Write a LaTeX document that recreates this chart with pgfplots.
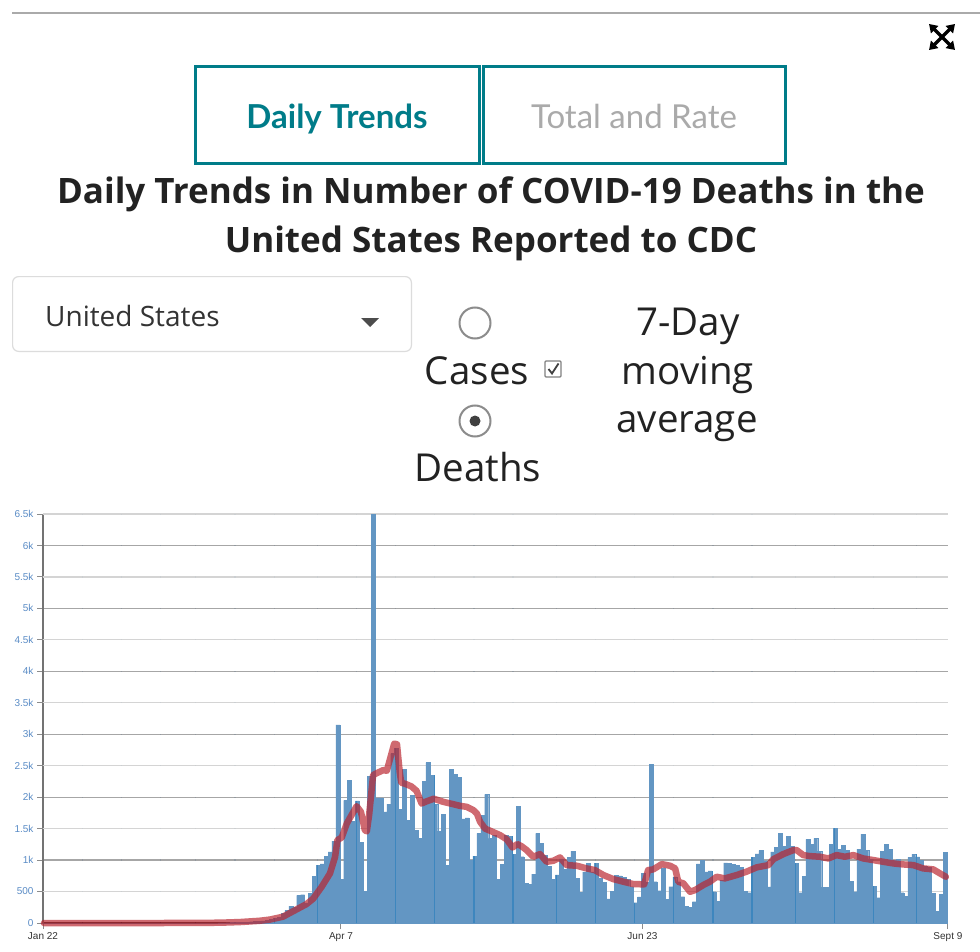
\documentclass[border=0pt]{standalone}
\usepackage{pgfplots}
\pgfplotsset{compat=1.18}
\usepackage{pgfplotstable}
\usepackage{fontspec}
\setmainfont{Open Sans}
\newfontfamily\lato{Lato}
\newfontfamily\arial{Liberation Sans}
\usetikzlibrary{arrows.meta}
\definecolor{tealc}{RGB}{0,124,137}
\definecolor{barblue}{RGB}{99,150,195}
\definecolor{avgred}{RGB}{185,35,45}
\definecolor{ylab}{RGB}{90,140,198}
\definecolor{txt}{RGB}{34,34,34}
\definecolor{burn}{RGB}{205,220,235}
\newcommand{\fs}[1]{\fontsize{#1}{#1}\selectfont}

\pgfplotstableread{
x y
0 0
1 0
2 0
3 0
4 0
5 0
6 0
7 0
8 0
9 0
10 0
11 0
12 0
13 0
14 0
15 0
16 0
17 0
18 0
19 0
20 0
21 0
22 0
23 0
24 0
25 0
26 0
27 0
28 0
29 0
30 0
31 0
32 0
33 0
34 0
35 0
36 0
37 0
38 0
39 0
40 0
41 0
42 0
43 0
44 0
45 2
46 3
47 5
48 6
49 8
50 10
51 12
52 15
53 20
54 25
55 30
56 35
57 45
58 55
59 70
60 90
61 153
62 200
63 270
64 250
65 440
66 450
67 320
68 470
69 740
70 920
71 940
72 1060
73 1130
74 1300
75 3150
76 690
77 1950
78 2270
79 1620
80 1940
81 1280
82 500
83 2330
84 6500
85 1990
86 1990
87 1767
88 1889
89 2693
90 2780
91 1804
92 2439
93 1635
94 2026
95 1476
96 1349
97 2254
98 2550
99 2349
100 1889
101 1460
102 1725
103 920
104 2439
105 2365
106 2312
107 1656
108 1672
109 1000
110 1063
111 1423
112 1714
113 2045
114 1344
115 1397
116 698
117 936
118 1397
119 1381
120 1095
121 1857
122 1053
123 635
124 610
125 778
126 1425
127 1268
128 1077
129 905
130 698
131 765
132 1020
133 852
134 1048
135 1143
136 715
137 485
138 812
139 947
140 812
141 947
142 715
143 651
144 384
145 505
146 762
147 751
148 725
149 695
150 577
151 323
152 416
153 790
154 650
155 2523
156 656
157 513
158 878
159 381
160 577
161 735
162 656
163 418
164 262
165 249
166 339
167 940
168 1000
169 812
170 830
171 497
172 349
173 682
174 957
175 947
176 931
177 915
178 884
179 508
180 481
181 1042
182 1100
183 1150
184 990
185 575
186 1130
187 1205
188 1425
189 1215
190 1381
191 1220
192 950
193 481
194 746
195 1328
196 1254
197 1344
198 1143
199 571
200 571
201 1254
202 1502
203 1174
204 1233
205 1153
206 667
207 497
208 1174
209 1412
210 1153
211 1010
212 587
213 402
214 1143
215 1254
216 1169
217 1000
218 1016
219 481
220 428
221 1045
222 1095
223 1050
224 1000
225 905
226 880
227 476
228 190
229 460
230 1127
}\bars

\pgfplotstableread{
x y
0 0
10 0
20 0
30 0
40 2
45 5
50 15
55 35
57.7 55
61 100
64.5 217
67 300
68.7 386
70.9 577
73 788
74.3 1050
74.9 1317
76 1360
77.3 1582
78.5 1714
79.8 1857
80.9 1767
81.9 1476
82.4 1455
83 1720
84 2350
84.9 2380
86.6 2430
87.5 2420
88.3 2600
89.4 2850
90.1 2840
90.8 2400
91.2 2230
92.3 2210
93.8 2170
95.1 2100
96.4 1899
97.5 1930
99.5 1975
101.9 1926
104 1895
106.2 1862
107.9 1846
109.6 1793
110.5 1740
111.3 1610
112.6 1500
114.3 1455
116.4 1397
118.1 1330
119.6 1200
120.8 1254
121.9 1220
123.2 1159
124.9 1053
126.6 1095
128.3 973
130 989
131.7 1042
133.4 920
136 910
138.5 868
140.6 841
142.8 762
145.3 698
147.9 656
150.4 619
153.2 614
154.2 841
155.5 852
157.7 936
159.8 910
161.1 868
161.9 656
163.2 630
164.9 497
166.2 524
168.3 603
170 656
171.7 735
173.8 709
176.8 762
179.3 815
181.9 884
184.9 920
186.2 1016
188.7 1095
191.3 1159
192.1 1159
193.8 1079
195.5 1063
198.1 1053
200.2 1026
202.3 1079
204.4 1053
206.6 1079
209.1 1026
211.7 1000
214.2 973
216.8 947
219.3 931
221.9 920
224.4 868
227 852
228.7 788
230.2 735
}\avg

\begin{document}
\begin{tikzpicture}[x=1pt,y=1pt]
\path[use as bounding box] (0,0) rectangle (980,-952);
\fill[white] (0,0) rectangle (980,-952);
% top rule
\draw[line width=2.5pt, color={rgb,255:red,170;green,170;blue,170}] (12,-13) -- (980,-13);
% expand icon
\draw[line width=3.4pt, {Triangle[length=8pt,width=10pt]}-{Triangle[length=8pt,width=10pt]}] (929,-24) -- (955,-50);
\draw[line width=3.4pt, {Triangle[length=8pt,width=10pt]}-{Triangle[length=8pt,width=10pt]}] (955,-24) -- (929,-50);
% tabs
\draw[tealc, line width=3pt] (195.5,-66.5) rectangle (479.5,-164);
\draw[tealc, line width=3pt] (483,-66.5) rectangle (785,-164);
\node[anchor=base, font=\lato\bfseries\fs{33}, text=tealc, inner sep=0] at (337,-129) {Daily Trends};
\node[anchor=base, font=\lato\fs{33}, text={rgb,255:red,170;green,170;blue,170}, inner sep=0] at (634,-129) {Total and Rate};
% title
\node[anchor=base, font=\bfseries\fs{35}, text=txt, inner sep=0] at (491,-204) {Daily Trends in Number of COVID-19 Deaths in the};
\node[anchor=base, font=\bfseries\fs{35}, text=txt, inner sep=0] at (491,-253) {United States Reported to CDC};
% dropdown
\draw[rounded corners=6pt, line width=1.2pt, color={rgb,255:red,220;green,220;blue,220}] (12.6,-276.6) rectangle (411.4,-351.4);
\node[anchor=base west, font=\fs{28}, text=black!80, inner sep=0] at (45,-326) {United States};
\fill[black!70] (361,-318) -- (379,-318) -- (370,-327) -- cycle;
% radios and checkbox
\draw[line width=2pt, color=black!45] (475,-323) circle (15.5pt);
\draw[line width=2pt, color=black!45] (475,-421) circle (15.5pt);
\fill[black!75] (475,-421) circle (5.5pt);
\draw[line width=1.2pt, black!50, rounded corners=1pt] (545,-361) rectangle (561,-377);
\draw[line width=1.8pt, black!75] (548.5,-369) -- (552,-373.5) -- (558.5,-363.5);
\node[anchor=base, font=\fs{38.5}, text=txt, inner sep=0] at (477,-384) {Cases};
\node[anchor=base, font=\fs{38.5}, text=txt, inner sep=0] at (478,-481) {Deaths};
\node[anchor=base, font=\fs{38.5}, text=txt, inner sep=0] at (688,-335) {7-Day};
\node[anchor=base, font=\fs{38.5}, text=txt, inner sep=0] at (688,-384) {moving};
\node[anchor=base, font=\fs{38.5}, text=txt, inner sep=0] at (687,-432) {average};
% chart
\begin{axis}[
  at={(43pt,-923pt)}, anchor=south west,
  scale only axis, width=905pt, height=409pt,
  xmin=-0.25, xmax=230.75, ymin=0, ymax=6500,
  clip=false,
  axis lines*=left,
  x axis line style={draw=black!80, line width=1.6pt},
  y axis line style={draw=black!55, line width=2pt},
  tick align=outside,
  major tick length=6pt,
  tick style={draw=black!45, line width=1pt},
  xtick={-0.25,75.81,152.77,230.73},
  xticklabels={Jan 22,Apr 7,Jun 23,Sept 9},
  ytick={0,1000,2000,3000,4000,5000,6000},
  yticklabels={0,1k,2k,3k,4k,5k,6k},
  extra y ticks={500,1500,2500,3500,4500,5500,6500},
  extra y tick labels={500,1.5k,2.5k,3.5k,4.5k,5.5k,6.5k},
  ymajorgrids=true,
  major grid style={draw=black!35, line width=1.2pt},
  extra y tick style={ymajorgrids=true, major grid style={draw=black!17, line width=1.2pt}},
  yticklabel style={font=\arial\fs{10}, text=ylab},
  xticklabel style={font=\arial\fs{10}, text=black!80},
]
\addplot[ybar, bar width=1, bar shift=0pt, fill=barblue, draw=barblue, line width=0.3pt] table[x=x, y=y] {\bars};
\begin{scope}[blend mode=color burn]
\pgfplotsinvokeforeach{9.75,19.75,29.75,38.75,48.75,58.75,69.75,79.75,89.75,99.75,109.75,119.75,130.75,140.75,150.75,160.75,170.75,180.75,191.75,201.75,211.75,222.75}{
  \draw[burn, line width=1.3pt] (axis cs:#1,0) -- (axis cs:#1,6500);
}
\end{scope}
\addplot[sharp plot, no marks, line width=6.5pt, draw=avgred, draw opacity=0.68, line join=round, line cap=round] table[x=x, y=y] {\avg};
\end{axis}
\end{tikzpicture}
\end{document}
